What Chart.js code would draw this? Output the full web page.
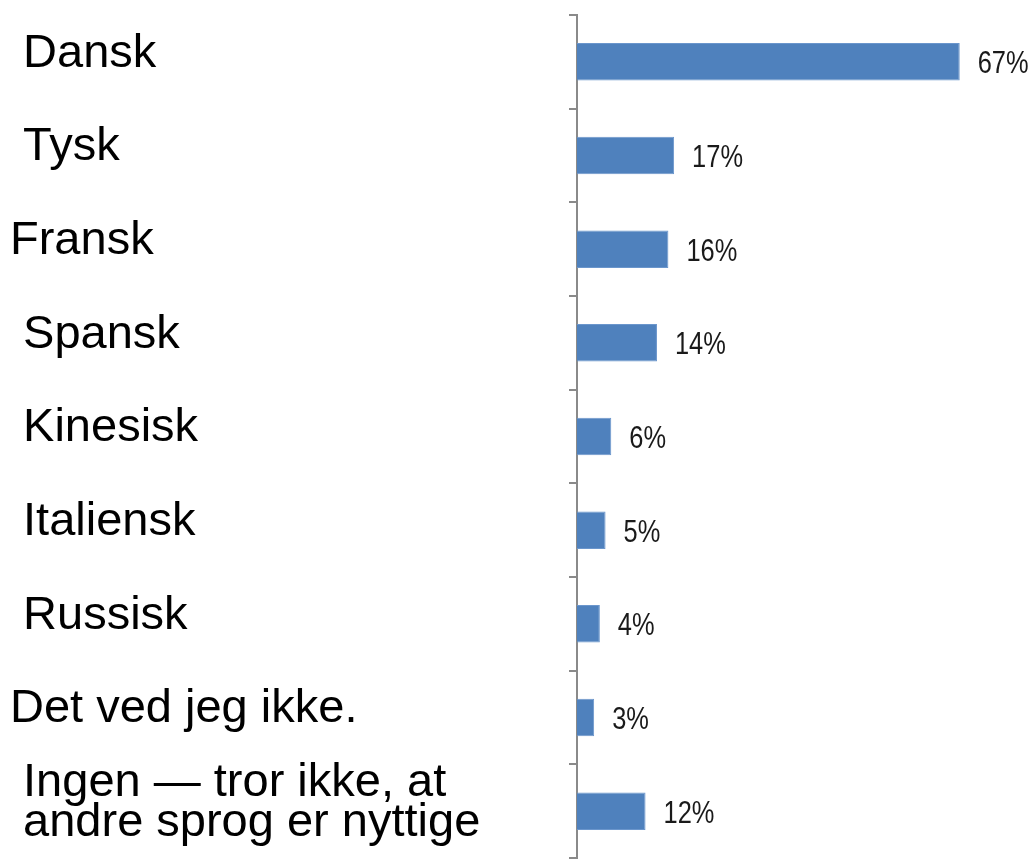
<!DOCTYPE html>
<html>
<head>
<meta charset="utf-8">
<script src="https://cdn.jsdelivr.net/npm/chart.js@4"></script>
<style>
  html, body { margin: 0; padding: 0; background: #fff; }
  #wrap { width: 1034px; height: 864px; position: relative; }
</style>
</head>
<body>
<div id="wrap"><canvas id="chart"></canvas></div>
<script>
// Languages (leading spaces keep the indent of the original labels)
const languages = [
  ' Dansk',
  ' Tysk',
  'Fransk',
  ' Spansk',
  ' Kinesisk',
  ' Italiensk',
  ' Russisk',
  'Det ved jeg ikke.',
  [' Ingen \u2014 tror ikke, at', ' andre sprog er nyttige']
];
const shares = [67, 17, 16, 14, 6, 5, 4, 3, 12];

const labelFont = '"Liberation Sans", Arial, sans-serif';

// Percent labels to the right of each bar, squeezed to a narrow face
const valueLabels = {
  id: 'valueLabels',
  afterDatasetsDraw(chart) {
    const ctx = chart.ctx;
    const meta = chart.getDatasetMeta(0);
    meta.data.forEach((bar, i) => {
      ctx.save();
      ctx.translate(bar.x + 18, bar.y + 3);
      ctx.scale(0.82, 1);
      ctx.font = '31px ' + labelFont;
      ctx.fillStyle = '#1a1a1a';
      ctx.textAlign = 'left';
      ctx.textBaseline = 'middle';
      ctx.fillText(shares[i] + '%', 0, 0);
      ctx.restore();
    });
  }
};

new Chart(document.getElementById('chart'), {
  type: 'bar',
  data: {
    labels: languages,
    datasets: [{
      data: shares,
      backgroundColor: '#4f81bd',
      borderColor: '#6b96cc',
      borderWidth: 1,
      barPercentage: 0.4,
      categoryPercentage: 1.0
    }]
  },
  options: {
    indexAxis: 'y',
    responsive: true,
    maintainAspectRatio: false,
    animation: false,
    layout: { padding: { left: 10, right: 0, top: 15, bottom: 6 } },
    plugins: {
      legend: { display: false },
      tooltip: { enabled: false }
    },
    scales: {
      x: {
        display: false,
        min: 0,
        max: 80
      },
      y: {
        afterFit(scale) {
          // fixed label column; big labels must not push the plot inward
          scale.width = 567;
          scale.paddingTop = 0;
          scale.paddingBottom = 0;
        },
        border: { display: true, color: '#8a8a8a', width: 2 },
        grid: {
          drawOnChartArea: false,
          drawTicks: true,
          tickLength: 8,
          color: '#8a8a8a',
          lineWidth: 2
        },
        ticks: {
          crossAlign: 'far',
          labelOffset: -8,
          color: '#000',
          font: { family: labelFont, size: 47, lineHeight: 0.85 }
        }
      }
    }
  },
  plugins: [valueLabels]
});
</script>
</body>
</html>
